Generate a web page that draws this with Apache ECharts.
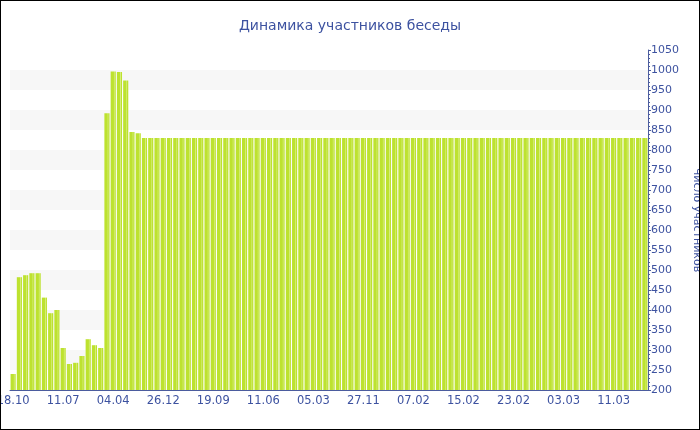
<!DOCTYPE html>
<html>
<head>
<meta charset="utf-8">
<script src="https://cdn.jsdelivr.net/npm/echarts@6/dist/echarts.min.js"></script>
<style>
  body { margin: 0; background: #fff; }
  #wrap { width: 700px; height: 430px; border: 1px solid #000; box-sizing: border-box; }
  #chart { width: 698px; height: 428px; }
</style>
</head>
<body>
<div id="wrap"><div id="chart"></div></div>
<script>
// подписи оси X (каждый 8-й столбец)
var tickLabels = ["18.10", "11.07", "04.04", "26.12", "19.09", "11.06", "05.03",
  "27.11", "07.02", "15.02", "23.02", "03.03", "11.03"];

// число участников по столбцам
var members = [
  240, 482, 487, 492, 492, 431, 392, 400, 305, 265, 268, 285, 327, 312, 305,
  892, 996, 995, 974, 845, 842,
  830, 830, 830, 830, 830, 830, 830, 830, 830, 830, 830, 830, 830, 830, 830, 830,
  830, 830, 830, 830, 830, 830, 830, 830, 830, 830, 830, 830, 830, 830, 830, 830,
  830, 830, 830, 830, 830, 830, 830, 830, 830, 830, 830, 830, 830, 830, 830, 830,
  830, 830, 830, 830, 830, 830, 830, 830, 830, 830, 830, 830, 830, 830, 830, 830,
  830, 830, 830, 830, 830, 830, 830, 830, 830, 830, 830, 830, 830, 830, 830, 830,
  830
];

var categories = members.map(function (v, i) {
  return i % 8 === 0 ? tickLabels[i / 8] : "";
});

var blue = "#3d52a0";
var axisBlue = "#4b5c9e";

var myChart = echarts.init(document.getElementById("chart"));
var option = {
  animation: false,
  textStyle: { fontFamily: "DejaVu Sans" },
  title: {
    text: "Динамика участников беседы",
    left: "center",
    top: 13,
    textStyle: { color: blue, fontSize: 14, fontWeight: "normal", fontFamily: "DejaVu Sans" }
  },
  grid: { left: 9, right: 51, top: 49, bottom: 39, containLabel: false, outerBoundsMode: "none" },
  xAxis: {
    type: "category",
    data: categories,
    axisLine: { lineStyle: { color: axisBlue } },
    axisTick: { interval: 7, alignWithLabel: true, length: 3, lineStyle: { color: axisBlue } },
    axisLabel: { interval: 7, color: blue, fontSize: 11.5, margin: 5, hideOverlap: false }
  },
  yAxis: {
    type: "value",
    position: "right",
    min: 200,
    max: 1050,
    interval: 50,
    name: "Число участников",
    nameLocation: "middle",
    nameRotate: -90,
    nameGap: 43,
    nameMoveOverlap: false,
    nameTextStyle: { color: blue, fontSize: 11 },
    axisLine: { show: true, lineStyle: { color: axisBlue } },
    axisTick: { show: true, length: 3, lineStyle: { color: axisBlue } },
    minorTick: { show: true, splitNumber: 5, length: 2, lineStyle: { color: axisBlue } },
    axisLabel: {
      color: blue, fontSize: 11, margin: 3,
      formatter: function (v) { return String(v); }
    },
    splitLine: { show: false },
    splitArea: { show: true, areaStyle: { color: ["rgba(255,255,255,0)", "#f7f7f7"] } }
  },
  series: [
    {
      name: "Число участников",
      type: "bar",
      data: members,
      barCategoryGap: "18%",
      itemStyle: {
        color: new echarts.graphic.LinearGradient(0, 0, 1, 0, [
          { offset: 0, color: "#bde22f" },
          { offset: 0.55, color: "#bde22f" },
          { offset: 0.7, color: "#d6ee7e" },
          { offset: 0.85, color: "#bde22f" },
          { offset: 1, color: "#bde22f" }
        ])
      }
    }
  ]
};
myChart.setOption(option);
window.addEventListener("resize", function () { myChart.resize(); });
</script>
</body>
</html>
